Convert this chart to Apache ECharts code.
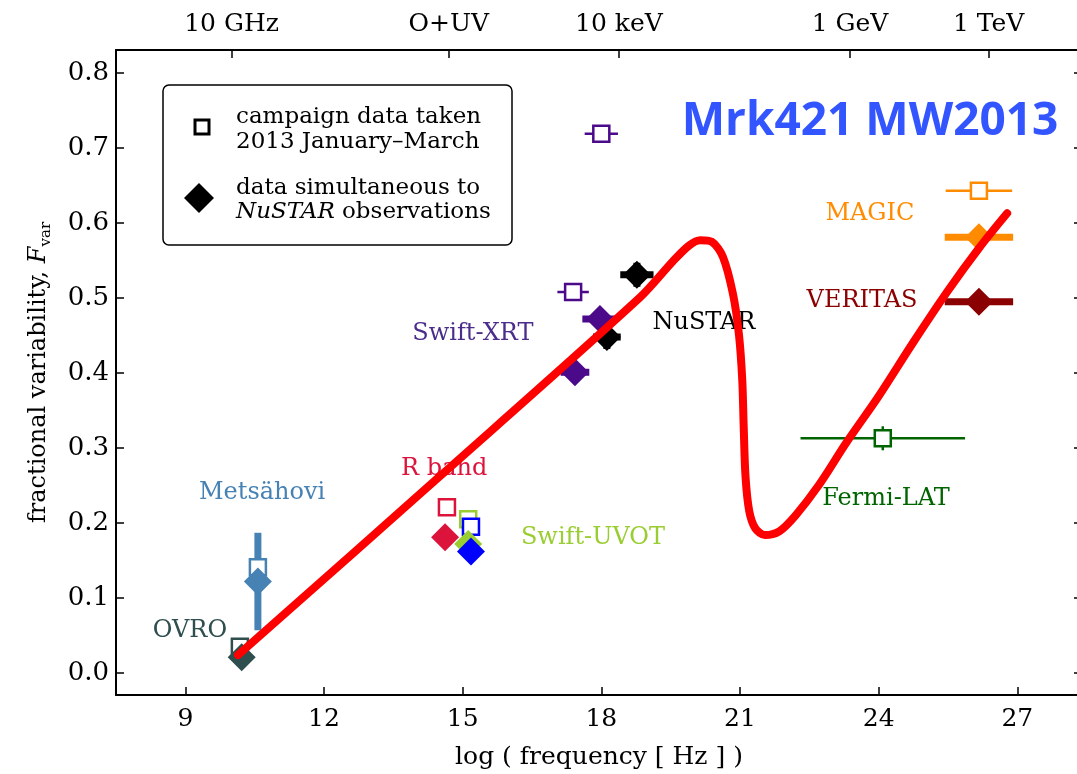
<!DOCTYPE html>
<html>
<head>
<meta charset="utf-8">
<script src="https://cdn.jsdelivr.net/npm/echarts@6/dist/echarts.min.js"></script>
<style>
html,body{margin:0;padding:0;background:#fff;}
#chart{width:1077px;height:774px;}
</style>
</head>
<body>
<div id="chart"></div>
<script>
// ---------- data ----------
// campaign data taken 2013 January-March (open squares)
const campaignNames   = ['OVRO','Metsähovi','R band','UVOT-V','UVOT-B','Swift-XRT','Swift-XRT','Fermi-LAT','MAGIC'];
const campaignLogNu   = [10.18, 10.57, 14.66, 15.12, 15.18, 18.00, 17.39, 24.09, 26.17];
const campaignFvar    = [0.035, 0.141, 0.221, 0.205, 0.195, 0.719, 0.508, 0.313, 0.643];
const campaignNuErr   = [0, 0, 0, 0, 0, 0.36, 0.34, 1.78, 0.72];
const campaignFvarErr = [0.006, 0.020, 0.004, 0.004, 0.004, 0.004, 0.004, 0.016, 0.004];

// data simultaneous to NuSTAR observations (filled diamonds)
const simulNames   = ['OVRO','Metsähovi','R band','UVOT-V','UVOT-B','Swift-XRT','Swift-XRT','NuSTAR','NuSTAR','MAGIC','VERITAS'];
const simulLogNu   = [10.22, 10.57, 14.62, 15.12, 15.18, 17.97, 17.43, 18.77, 18.12, 26.17, 26.17];
const simulFvar    = [0.021, 0.122, 0.181, 0.172, 0.162, 0.472, 0.401, 0.531, 0.448, 0.581, 0.495];
const simulNuErr   = [0, 0, 0, 0, 0, 0.38, 0.31, 0.36, 0.30, 0.74, 0.74];
const simulFvarErr = [0.005, 0.065, 0.003, 0.004, 0.004, 0.006, 0.006, 0.016, 0.016, 0.006, 0.006];

// instrument labels
const labelTexts = ['Metsähovi','OVRO','R band','Swift-UVOT','Swift-XRT','NuSTAR','MAGIC','VERITAS','Fermi-LAT'];
const labelKeys  = ['Metsähovi','OVRO','R band','UVOT-V','Swift-XRT-label','NuSTAR','MAGIC','VERITAS','Fermi-LAT'];
const labelLogNu = [10.66, 9.10, 14.60, 17.82, 15.22, 20.22, 23.81, 23.64, 24.16];
const labelFvar  = [0.241, 0.056, 0.272, 0.181, 0.452, 0.467, 0.612, 0.497, 0.232];

// hand-drawn red annotation curve
const curveLogNu = [10.14, 14.50, 18.84, 19.55, 19.90, 20.14, 20.39, 20.63, 20.85, 20.98, 21.05, 21.08, 21.12, 21.20, 21.33, 21.54, 21.85, 22.20, 22.70, 23.30, 24.00, 24.74, 25.48, 26.19, 26.78];
const curveFvar  = [0.024, 0.262, 0.501, 0.549, 0.570, 0.577, 0.575, 0.555, 0.505, 0.450, 0.390, 0.330, 0.262, 0.216, 0.193, 0.184, 0.189, 0.210, 0.250, 0.307, 0.369, 0.440, 0.508, 0.568, 0.613];

// axes
const xTicks = [9, 12, 15, 18, 21, 24, 27];
const yTicks = [0, 0.1, 0.2, 0.3, 0.4, 0.5, 0.6, 0.7, 0.8];
const topTickValues = [10, 14.7, 18.38, 23.38, 26.38];
const topTickLabels = ['10 GHz', 'O+UV', '10 keV', '1 GeV', '1 TeV'];

// ---------- styles ----------
const colors = {
  'OVRO':'#2f4f4f','Metsähovi':'#4682b4','R band':'#dc143c','UVOT-V':'#9acd32','UVOT-B':'#0000ff',
  'Swift-XRT':'#4b0a8a','Swift-XRT-label':'#4b2e8c','NuSTAR':'#000000','Fermi-LAT':'#006400',
  'MAGIC':'#ff8c00','VERITAS':'#8b0000'
};
const SERIF = 'DejaVu Serif';

function errData(names, xs, ys, xe, ye) {
  return names.map((n, i) => ({ value: [xs[i], ys[i], xe[i], ye[i]], itemStyle: { color: colors[n] } }));
}
function makeErrRenderer(width) {
  return function (params, api) {
    const x = api.value(0), y = api.value(1), xe = api.value(2), ye = api.value(3);
    const col = api.visual('color');
    const children = [];
    if (xe > 0) {
      const a = api.coord([x - xe, y]), b = api.coord([x + xe, y]);
      children.push({ type: 'line', shape: { x1: a[0], y1: a[1], x2: b[0], y2: b[1] }, style: { stroke: col, lineWidth: width } });
    }
    if (ye > 0) {
      const a = api.coord([x, y - ye]), b = api.coord([x, y + ye]);
      children.push({ type: 'line', shape: { x1: a[0], y1: a[1], x2: b[0], y2: b[1] }, style: { stroke: col, lineWidth: width } });
    }
    return { type: 'group', children };
  };
}

const X_MIN = 7.5, X_MAX = 28.4, Y_MIN = -0.0293, Y_MAX = 0.8307;

const chart = echarts.init(document.getElementById('chart'));
const axisLineStyle = { color: '#000', width: 2 };
const tickStyle = { color: '#000', width: 1.5 };

const option = {
  animation: false,
  backgroundColor: '#fff',
  grid: { left: 116, top: 50, right: -5, bottom: 79, outerBoundsMode: 'none', containLabel: false },
  xAxis: [
    {
      type: 'value', min: X_MIN, max: X_MAX, position: 'bottom',
      axisLine: { show: true, onZero: false, lineStyle: axisLineStyle },
      axisTick: { show: true, inside: true, length: 8, lineStyle: tickStyle, customValues: xTicks },
      axisLabel: { show: true, customValues: xTicks, margin: 12, fontFamily: SERIF, fontSize: 25, color: '#000' },
      splitLine: { show: false },
      name: 'log ( frequency [ Hz ] )', nameLocation: 'middle', nameGap: 50,
      nameTextStyle: { fontFamily: SERIF, fontSize: 25, color: '#000' }
    },
    {
      type: 'value', min: X_MIN, max: X_MAX, position: 'top',
      axisLine: { show: true, onZero: false, lineStyle: axisLineStyle },
      axisTick: { show: true, inside: true, length: 8, lineStyle: tickStyle, customValues: topTickValues },
      axisLabel: {
        show: true, customValues: topTickValues, margin: 13, fontFamily: SERIF, fontSize: 25, color: '#000',
        formatter: function (v) {
          let best = 0;
          for (let i = 0; i < topTickValues.length; i++) if (Math.abs(topTickValues[i] - v) < Math.abs(topTickValues[best] - v)) best = i;
          return topTickLabels[best];
        }
      },
      splitLine: { show: false }
    }
  ],
  yAxis: [
    {
      type: 'value', min: Y_MIN, max: Y_MAX, position: 'left',
      axisLine: { show: true, onZero: false, lineStyle: axisLineStyle },
      axisTick: { show: true, inside: true, length: 8, lineStyle: tickStyle, customValues: yTicks },
      axisLabel: { show: true, customValues: yTicks, margin: 7, fontFamily: SERIF, fontSize: 26, color: '#000',
        formatter: v => v.toFixed(1) },
      splitLine: { show: false },
      name: '{a|fractional variability, }{f|F}{s|var}', nameLocation: 'middle', nameGap: 62, nameRotate: 90,
      nameTextStyle: {
        color: '#000',
        rich: {
          a: { fontFamily: SERIF, fontSize: 24, color: '#000', lineHeight: 30, verticalAlign: 'middle' },
          f: { fontFamily: SERIF, fontSize: 24, fontStyle: 'italic', color: '#000', lineHeight: 30, verticalAlign: 'middle' },
          s: { fontFamily: SERIF, fontSize: 15, color: '#000', lineHeight: 30, verticalAlign: 'bottom' }
        }
      }
    },
    {
      type: 'value', min: Y_MIN, max: Y_MAX, position: 'right',
      axisLine: { show: false, onZero: false, lineStyle: axisLineStyle },
      axisTick: { show: true, inside: true, length: 8, lineStyle: tickStyle, customValues: yTicks },
      axisLabel: { show: false },
      splitLine: { show: false }
    }
  ],
  series: [
    {
      type: 'custom', name: 'campaign errors', z: 2,
      renderItem: makeErrRenderer(2.5), encode: { x: 0, y: 1 },
      data: errData(campaignNames, campaignLogNu, campaignFvar, campaignNuErr, campaignFvarErr)
    },
    {
      type: 'custom', name: 'simultaneous errors', z: 3,
      renderItem: makeErrRenderer(7), encode: { x: 0, y: 1 },
      data: errData(simulNames, simulLogNu, simulFvar, simulNuErr, simulFvarErr)
    },
    {
      type: 'scatter', name: 'campaign', z: 4, symbol: 'rect', symbolSize: 16,
      itemStyle: { opacity: 1 },
      data: campaignNames.map((n, i) => ({ value: [campaignLogNu[i], campaignFvar[i]],
        itemStyle: { color: '#fff', borderColor: colors[n], borderWidth: 2.5, opacity: 1 } }))
    },
    {
      type: 'scatter', name: 'simultaneous', z: 5, symbol: 'diamond', symbolSize: [28, 28],
      itemStyle: { opacity: 1 },
      data: simulNames.map((n, i) => ({ value: [simulLogNu[i], simulFvar[i]],
        itemStyle: { color: colors[n], opacity: 1 } }))
    },
    {
      type: 'scatter', name: 'labels', z: 6, symbolSize: 0, silent: true,
      itemStyle: { opacity: 1 },
      label: { show: true, position: 'inside', formatter: '{b}', fontFamily: SERIF, fontSize: 24, opacity: 1 },
      data: labelTexts.map((t, i) => ({ name: t, value: [labelLogNu[i], labelFvar[i]],
        label: { color: colors[labelKeys[i]] } }))
    },
    {
      type: 'line', name: 'annotation', z: 10, symbol: 'none', smooth: 0.3,
      lineStyle: { color: '#ff0000', width: 8, cap: 'round', join: 'round' },
      data: curveLogNu.map((x, i) => [x, curveFvar[i]])
    }
  ],
  graphic: [
    { type: 'rect', z: 20, shape: { x: 163, y: 85, width: 349, height: 160, r: 6 },
      style: { fill: '#fff', stroke: '#000', lineWidth: 1.5 } },
    { type: 'rect', z: 21, shape: { x: 195, y: 120, width: 14, height: 14 },
      style: { fill: '#fff', stroke: '#000', lineWidth: 3 } },
    { type: 'polygon', z: 21, shape: { points: [[199, 183], [214, 198], [199, 213], [184, 198]] },
      style: { fill: '#000' } },
    { type: 'text', z: 21, style: { text: 'campaign data taken', x: 236, y: 117, verticalAlign: 'middle',
      font: '23px "DejaVu Serif"', fill: '#000' } },
    { type: 'text', z: 21, style: { text: '2013 January\u2013March', x: 236, y: 142, verticalAlign: 'middle',
      font: '23px "DejaVu Serif"', fill: '#000' } },
    { type: 'text', z: 21, style: { text: 'data simultaneous to', x: 236, y: 188, verticalAlign: 'middle',
      font: '23px "DejaVu Serif"', fill: '#000' } },
    { type: 'text', z: 21, style: { text: '{i|NuSTAR} {n|observations}', x: 236, y: 212, verticalAlign: 'middle',
      font: '23px "DejaVu Serif"', fill: '#000',
      rich: { i: { fontFamily: SERIF, fontSize: 23, fontStyle: 'italic', fill: '#000' },
              n: { fontFamily: SERIF, fontSize: 23, fill: '#000' } } } },
    { type: 'text', z: 21, style: { text: 'Mrk421 MW2013', x: 870, y: 122, align: 'center', verticalAlign: 'middle',
      font: 'bold 46px "Open Sans"', fill: '#3355ff' } }
  ]
};
chart.setOption(option);
</script>
</body>
</html>
